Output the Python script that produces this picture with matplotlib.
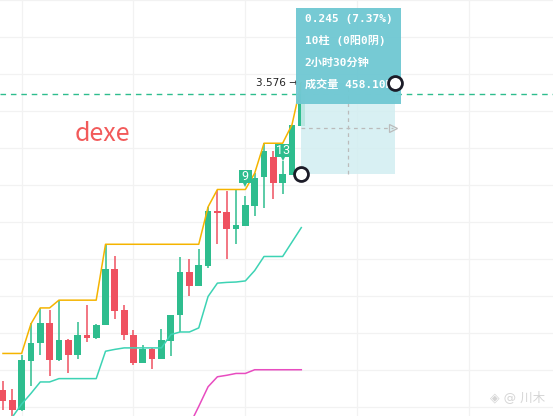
import numpy as np
import matplotlib
matplotlib.use("Agg")
import matplotlib.pyplot as plt
from matplotlib.patches import Rectangle

plt.rcParams['font.family'] = ['Noto Sans CJK SC', 'DejaVu Sans']

# candle data (bar index 1..33)
bars = np.arange(1, 34)
opens = [2.745, 2.718, 2.692, 2.824, 2.873, 2.928, 2.826, 2.880, 2.840, 2.896, 2.886,
         2.921, 3.073, 2.963, 2.896, 2.818, 2.856, 2.831, 2.878, 2.948, 3.065, 3.026,
         3.082, 3.229, 3.227, 3.181, 3.190, 3.244, 3.321, 3.375, 3.305, 3.328, 3.460]
closes = [2.716, 2.692, 2.826, 2.874, 2.928, 2.826, 2.880, 2.840, 2.896, 2.886, 2.923,
          3.073, 2.961, 2.894, 2.818, 2.856, 2.831, 2.880, 2.950, 3.065, 3.026, 3.084,
          3.229, 3.225, 3.181, 3.192, 3.245, 3.320, 3.391, 3.305, 3.329, 3.462, 3.546]
highs = [2.770, 2.750, 2.842, 2.926, 2.969, 2.963, 2.990, 2.885, 2.930, 2.976, 2.925,
         3.141, 3.109, 2.975, 2.909, 2.867, 2.860, 2.911, 2.950, 3.105, 3.100, 3.126,
         3.241, 3.287, 3.283, 3.288, 3.270, 3.332, 3.414, 3.393, 3.366, 3.463, 3.576]
lows = [2.692, 2.667, 2.689, 2.757, 2.842, 2.783, 2.824, 2.793, 2.829, 2.875, 2.885,
        2.921, 2.939, 2.881, 2.815, 2.818, 2.802, 2.831, 2.838, 2.903, 3.001, 3.026,
        3.075, 3.142, 3.100, 3.141, 3.190, 3.217, 3.237, 3.263, 3.277, 3.328, 3.460]

# channel lines
upper = [2.845, 2.845, 2.845, 2.925, 2.968, 2.968, 2.989, 2.989, 2.989, 2.989, 2.989,
         3.140, 3.140, 3.140, 3.140, 3.140, 3.140, 3.140, 3.140, 3.140, 3.140, 3.140,
         3.241, 3.288, 3.288, 3.288, 3.288, 3.332, 3.413, 3.413, 3.413, 3.463, 3.576]
lower_bars = np.arange(2, 34)
lower = [2.673, 2.708, 2.737, 2.768, 2.768, 2.777, 2.777, 2.777, 2.777, 2.777,
         2.851, 2.856, 2.860, 2.860, 2.860, 2.860, 2.860, 2.896, 2.903, 2.903, 2.914,
         2.999, 3.035, 3.037, 3.038, 3.041, 3.069, 3.107, 3.107, 3.107, 3.146, 3.185]
slow_bars = np.arange(21, 34)
slow = [2.651, 2.702, 2.755, 2.782, 2.786, 2.791, 2.791, 2.801, 2.801, 2.801, 2.801,
        2.801, 2.801]

last_price = 3.546
measure_start = (33, 3.331)
measure_end = (43, 3.576)
tooltip_lines = ["0.245 (7.37%)", "10柱 (0阳0阴)", "2小时30分钟", "成交量 458.10K"]
td_bars = [27, 31]
td_texts = ["9", "13"]
td_box_bottom = [3.306, 3.377]

GREEN = "#2EBD8E"
RED = "#EF5160"

fig = plt.figure(figsize=(5.53, 4.16), dpi=100)
ax = fig.add_axes([0, 0, 1, 1])
ax.set_xlim(0.68, 60.0)
ax.set_ylim(2.676, 3.797)
for s in ax.spines.values():
    s.set_visible(False)
ax.set_xticks([3, 15, 27, 39, 51])
ax.set_yticks(np.arange(2.7, 3.85, 0.1))
ax.tick_params(length=0, labelbottom=False, labelleft=False)
ax.grid(True, color="#F2F2F2", lw=0.9)
ax.set_axisbelow(True)

# candles
for b, o, c, h, l in zip(bars, opens, closes, highs, lows):
    col = GREEN if c >= o else RED
    ax.vlines(b, l, h, color=col, lw=1.1, zorder=3)
    ax.add_patch(Rectangle((b - 0.36, min(o, c)), 0.72, max(abs(c - o), 0.004),
                           facecolor=col, edgecolor="none", zorder=3))

ax.plot(bars, upper, color="#F5B400", lw=1.1, zorder=4)
ax.plot(lower_bars, lower, color="#3DD3B4", lw=1.1, zorder=4)
ax.plot(slow_bars, slow, color="#E84CC0", lw=1.1, zorder=4)

# last price line
ax.axhline(last_price, color=GREEN, lw=1, ls=(0, (4, 3.5)), zorder=2)
ax.text(32.6, 3.576, "3.576 →", ha="right", va="center", fontsize=7.5,
        color="#222222", family=["DejaVu Sans"], zorder=5)

ax.text(11.7, 3.439, "dexe", ha="center", va="center", fontsize=18, color="#F25A5A")

# TD count labels
for b, t, y0 in zip(td_bars, td_texts, td_box_bottom):
    w = 1.45 if len(t) == 1 else 1.7
    ax.add_patch(Rectangle((b - w / 2, y0), w, 0.035, facecolor=GREEN,
                           edgecolor="none", zorder=6))
    ax.plot([b], [y0 - 0.003], marker="v", ms=4.5, color=GREEN, mew=0, zorder=6)
    ax.text(b, y0 + 0.0165, t, ha="center", va="center", fontsize=9,
            color="white", family=["Roboto", "DejaVu Sans"], zorder=7)

# measure tool
x0, p0 = measure_start
x1, p1 = measure_end
ax.add_patch(Rectangle((x0, p0), x1 - x0, p1 - p0, facecolor="#D2EEF1",
                       edgecolor="none", alpha=0.85, zorder=5))
xm, pm = (x0 + x1) / 2, (p0 + p1) / 2
ax.plot([xm, xm], [p0, p1], color="#BBBBBB", lw=0.9, ls=(0, (3, 3)), zorder=6)
ax.plot([x0, x1 - 0.2], [pm, pm], color="#BBBBBB", lw=0.9, ls=(0, (3, 3)), zorder=6)
ax.plot([x1 - 0.2], [pm], marker=">", ms=6, mfc="none", mec="#BBBBBB", mew=0.9, zorder=6)

ax.add_patch(Rectangle((x0 - 0.56, 3.520), x1 - x0 + 1.26, 0.258,
                       facecolor="#70C8D3", edgecolor="none", alpha=0.96, zorder=7))
for i, line in enumerate(tooltip_lines):
    ax.text(x0 + 0.35, 3.7485 - i * 0.0585, line, ha="left", va="center", fontsize=8,
            fontweight="bold", color="white",
            family=["DejaVu Sans Mono", "Noto Sans CJK SC"], zorder=8)

ax.plot([x0, x1], [p0, p1], ls="none", marker="o", ms=10, mfc="white",
        mec="#1C1C28", mew=2, zorder=9)

# watermark
ax.text(0.985, 0.028, "◈ @ 川木", transform=ax.transAxes, ha="right", va="bottom",
        fontsize=9, color="#D5D5D5", family=["DejaVu Sans", "Noto Sans CJK SC"])

fig.savefig("out.png", dpi=100)
